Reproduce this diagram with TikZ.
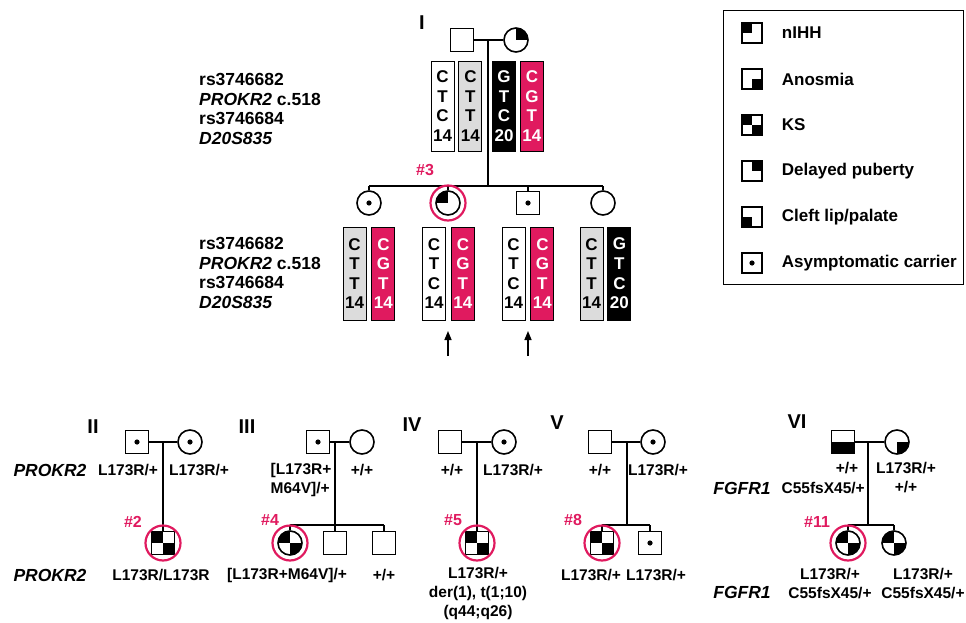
\documentclass[tikz,border=0pt]{standalone}
\usepackage{fontspec}
\setmainfont{Liberation Sans}
\usepackage{xcolor}
\usepackage{tikz}
\usetikzlibrary{arrows.meta, positioning}
\definecolor{tagpink}{HTML}{E01A5F}
\definecolor{hapgray}{HTML}{DCDCDC}

\begin{document}
\begin{tikzpicture}[
  x=1pt, y=-1pt,
  every node/.style={font=\bfseries\fontsize{15.5}{19}\selectfont, inner sep=1pt},
  male/.style={
    rectangle, draw, fill=white, line width=1.6pt,
    minimum size=23pt, inner sep=0pt
  },
  female/.style={
    circle, draw, fill=white, line width=1.6pt,
    minimum size=24pt, inner sep=0pt
  },
  legicon/.style={male, minimum size=20pt, line width=1.4pt},
  nihh/.style={path picture={\fill[black] (path picture bounding box.center) rectangle (path picture bounding box.north west);}},
  anos/.style={path picture={\fill[black] (path picture bounding box.center) rectangle (path picture bounding box.south east);}},
  ks/.style={path picture={
    \fill[black] (path picture bounding box.center) rectangle (path picture bounding box.north west);
    \fill[black] (path picture bounding box.center) rectangle (path picture bounding box.south east);}},
  late/.style={path picture={\fill[black] (path picture bounding box.center) rectangle (path picture bounding box.north east);}},
  cleft/.style={path picture={\fill[black] (path picture bounding box.center) rectangle (path picture bounding box.south west);}},
  cleftanos/.style={path picture={\fill[black] (path picture bounding box.west) rectangle (path picture bounding box.south east);}},
  carrier/.style={path picture={\fill[black] (path picture bounding box.center) circle (2.6pt);}},
  ring/.style={circle, draw=tagpink, line width=2.2pt, minimum size=35pt, inner sep=0pt},
  tag/.style={text=tagpink, font=\bfseries\fontsize{16}{18}\selectfont},
  gen/.style={font=\bfseries\fontsize{20}{22}\selectfont},
  gene/.style={font=\bfseries\itshape\fontsize{17.5}{20}\selectfont},
  loci/.style={align=left, anchor=west, font=\bfseries\fontsize{17.5}{19.6}\selectfont},
  hap/.style={
    rectangle, draw, line width=0.9pt,
    minimum width=23pt, minimum height=90pt, inner sep=0pt,
    align=center, font=\bfseries\fontsize{17}{19.6}\selectfont
  },
  hapw/.style={hap, fill=white},
  hapg/.style={hap, fill=hapgray},
  hapk/.style={hap, fill=black, text=white},
  happ/.style={hap, fill=tagpink, text=white},
  haptop/.style={execute at begin node={\rule{0pt}{18.5pt}}},
  ped/.style={line width=1.6pt},
  arr/.style={-{Triangle[length=9pt, width=7pt]}, line width=1.5pt},
  keytext/.style={anchor=west, font=\bfseries\fontsize{17}{19}\selectfont}
]
\useasboundingbox (0,0) rectangle (966,623);

% family I with haplotypes
\node[gen] (gI) at (422,23) {I};
\node[male] (f1) at (462,40) {};
\node[female, late] (m1) at (516,40) {};
\coordinate (d1) at (488,40);
\coordinate (s1) at (488,186);
\draw[ped] (f1) -- (m1);
\draw[ped] (d1) -- (s1);

\node[loci] (loc1) at (198,109) {rs3746682\\\textit{PROKR2} c.518\\rs3746684\\\textit{D20S835}};
\node[hapw, haptop] (h1a) at (442.5,106) {C\\T\\C\\14};
\node[hapg, haptop, right=4pt of h1a] (h1b) {C\\T\\T\\14};
\node[hapk, haptop] (h1c) at (504,106) {G\\T\\C\\20};
\node[happ, haptop, right=4pt of h1c] (h1d) {C\\G\\T\\14};

\node[female, carrier] (c1) at (369,203) {};
\node[female, nihh] (c2) at (448,203) {};
\node[male, carrier] (c3) at (528,203) {};
\node[female] (c4) at (603,203) {};
\draw[ped] (c1 |- s1) -- (c4 |- s1);
\foreach \c in {c1,c2,c3,c4}
  \draw[ped] (\c |- s1) -- (\c);
\node[ring] (r3) at (c2) {};
\node[tag] (t3) at (425,170) {\#3};

\node[loci] (loc2) at (198,273) {rs3746682\\\textit{PROKR2} c.518\\rs3746684\\\textit{D20S835}};
\node[hapg, minimum height=93pt] (h2a) at (354.5,273.5) {C\\T\\T\\14};
\node[happ, minimum height=93pt, right=5pt of h2a] (h2b) {C\\G\\T\\14};
\node[hapw, minimum height=93pt] (h3a) at (434,273.5) {C\\T\\C\\14};
\node[happ, minimum height=93pt, right=5pt of h3a] (h3b) {C\\G\\T\\14};
\node[hapw, minimum height=93pt] (h4a) at (513.5,273.5) {C\\T\\C\\14};
\node[happ, minimum height=93pt, right=5pt of h4a] (h4b) {C\\G\\T\\14};
\node[hapg, minimum height=93pt] (h5a) at (591.5,273.5) {C\\T\\T\\14};
\node[hapk, minimum height=93pt, right=4pt of h5a] (h5b) {G\\T\\C\\20};

\coordinate (a3s) at (448,356);
\coordinate (a3e) at (448,331);
\coordinate (a4s) at (528,356);
\coordinate (a4e) at (528,331);
\draw[arr] (a3s) -- (a3e);
\draw[arr] (a4s) -- (a4e);

% legend
\node[draw, line width=1.2pt, minimum width=240pt, minimum height=274pt,
  anchor=north west, inner sep=0pt] (legend) at (723,10) {};
\node[legicon, nihh] (k1) at (752,33) {};
\node[legicon, anos, below=24.6pt of k1] (k2) {};
\node[legicon, ks, below=24.6pt of k2] (k3) {};
\node[legicon, late, below=24.6pt of k3] (k4) {};
\node[legicon, cleft, below=24.6pt of k4] (k5) {};
\node[legicon, carrier, below=24.6pt of k5] (k6) {};
\node[keytext, right=18pt of k1] (l1) {nIHH};
\node[keytext, right=18pt of k2] (l2) {Anosmia};
\node[keytext, right=18pt of k3] (l3) {KS};
\node[keytext, right=18pt of k4] (l4) {Delayed puberty};
\node[keytext, right=18pt of k5] (l5) {Cleft lip/palate};
\node[keytext, right=18pt of k6] (l6) {Asymptomatic carrier};

% family II
\node[gen] (gII) at (93,427) {II};
\node[male, carrier] (f2) at (137,442) {};
\node[female, carrier] (m2) at (190,442) {};
\coordinate (d2) at (163,442);
\node[male, ks] (p2) at (163,543) {};
\draw[ped] (f2) -- (m2);
\draw[ped] (d2) -- (p2);
\node[ring] (r2) at (p2) {};
\node[tag] (t2) at (133,522) {\#2};
\node[gene] (g2a) at (50,470) {PROKR2};
\node (x2a) at (128,470) {L173R/+};
\node (x2b) at (199,470) {L173R/+};
\node[gene] (g2b) at (50,575) {PROKR2};
\node (x2c) at (161,575) {L173R/L173R};

% family III
\node[gen] (gIII) at (247,427) {III};
\node[male, carrier] (f3) at (318,442) {};
\node[female] (m3) at (362,442) {};
\coordinate (d3) at (335,442);
\coordinate (s3) at (335,525);
\node[female, ks] (p4) at (290,543) {};
\node[male] (c3b) at (335,543) {};
\node[male] (c3c) at (384,543) {};
\draw[ped] (f3) -- (m3);
\draw[ped] (d3) -- (c3b);
\draw[ped] (p4 |- s3) -- (c3c |- s3);
\draw[ped] (p4 |- s3) -- (p4);
\draw[ped] (c3c |- s3) -- (c3c);
\node[ring] (r4) at (p4) {};
\node[tag] (t4) at (270,520) {\#4};
\node[align=left] (x3a) at (301,480) {[L173R+\\M64V]/+};
\node (x3b) at (362,470) {+/+};
\node (x3c) at (287,575) {[L173R+M64V]/+};
\node (x3d) at (384,575) {+/+};

% family IV
\node[gen] (gIV) at (412,425) {IV};
\node[male] (f4) at (450,442) {};
\node[female, carrier] (m4) at (504,442) {};
\coordinate (d4) at (477,442);
\node[male, ks] (p5) at (477,543) {};
\draw[ped] (f4) -- (m4);
\draw[ped] (d4) -- (p5);
\node[ring] (r5) at (p5) {};
\node[tag] (t5) at (453,520) {\#5};
\node (x4a) at (452,470) {+/+};
\node (x4b) at (513,470) {L173R/+};
\node[align=center] (x4c) at (478,593) {L173R/+\\der(1), t(1;10)\\(q44;q26)};

% family V
\node[gen] (gV) at (557,423) {V};
\node[male] (f5) at (600,442) {};
\node[female, carrier] (m5) at (653,442) {};
\coordinate (d5) at (627,442);
\coordinate (s5) at (627,525);
\node[male, ks] (p8) at (602,543) {};
\node[male, carrier] (c5b) at (650,543) {};
\draw[ped] (f5) -- (m5);
\draw[ped] (d5) -- (s5);
\draw[ped] (p8 |- s5) -- (c5b |- s5);
\draw[ped] (p8 |- s5) -- (p8);
\draw[ped] (c5b |- s5) -- (c5b);
\node[ring] (r8) at (p8) {};
\node[tag] (t8) at (573,520) {\#8};
\node (x5a) at (600,470) {+/+};
\node (x5b) at (658,470) {L173R/+};
\node (x5c) at (591,575) {L173R/+};
\node (x5d) at (656,575) {L173R/+};

% family VI
\node[gen] (gVI) at (797,422) {VI};
\node[male, cleftanos] (f6) at (843,442) {};
\node[female, anos] (m6) at (897,442) {};
\coordinate (d6) at (868,442);
\coordinate (s6) at (868,525);
\node[female, ks] (p11) at (848,543) {};
\node[female, ks] (c6b) at (894,543) {};
\draw[ped] (f6) -- (m6);
\draw[ped] (d6) -- (s6);
\draw[ped] (p11 |- s6) -- (c6b |- s6);
\draw[ped] (p11 |- s6) -- (p11);
\draw[ped] (c6b |- s6) -- (c6b);
\node[ring] (r11) at (p11) {};
\node[tag] (t11) at (817,522) {\#11};
\node[gene] (g6a) at (742,488) {FGFR1};
\node (x6a) at (847,468) {+/+};
\node[anchor=east] (x6e) at (866,488) {C55fsX45/+};
\node[align=center] (x6b) at (906,478) {L173R/+\\+/+};
\node[gene] (g6b) at (742,592) {FGFR1};
\node[align=center] (x6c) at (830,584) {L173R/+\\C55fsX45/+};
\node[align=center] (x6d) at (923,584) {L173R/+\\C55fsX45/+};
\end{tikzpicture}
\end{document}
